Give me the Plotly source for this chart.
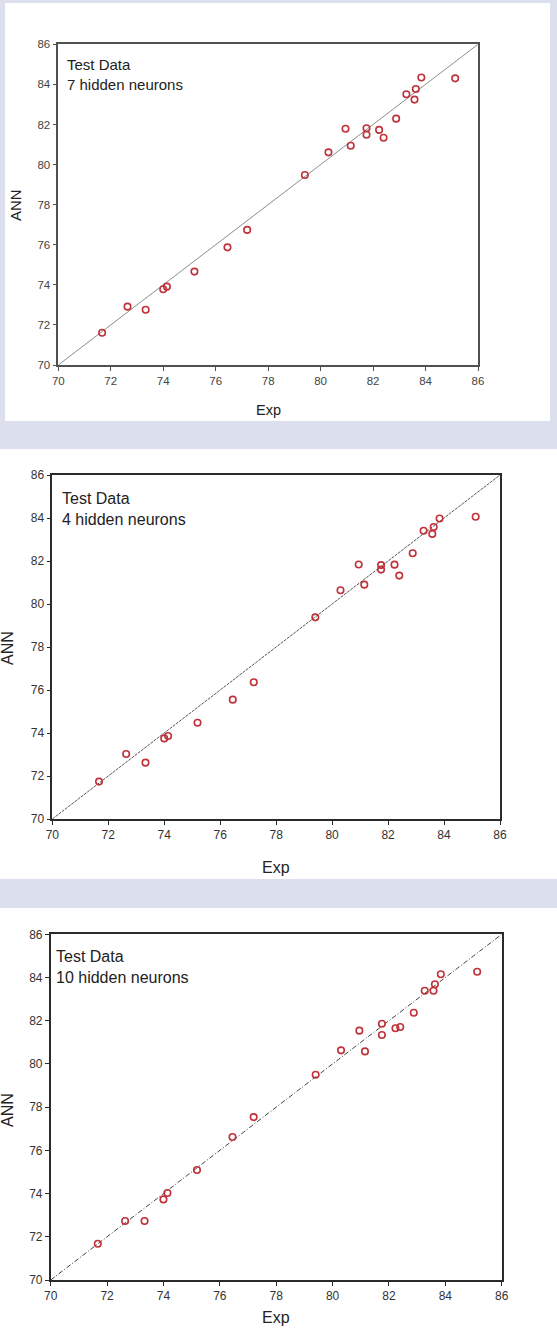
import plotly.graph_objects as go

# ---------------- data ----------------
exp_values = [71.67, 72.64, 73.33, 74.00, 74.14, 75.19, 76.45, 77.20, 79.40, 80.30, 80.95,
              81.15, 81.75, 81.75, 82.23, 82.40, 82.88, 83.27, 83.58, 83.63, 83.84, 85.13]
ann_7_neurons = [71.61, 72.91, 72.76, 73.78, 73.91, 74.66, 75.87, 76.74, 79.48, 80.61, 81.79,
                 80.94, 81.81, 81.49, 81.73, 81.34, 82.29, 83.51, 83.24, 83.77, 84.34, 84.30]
ann_4_neurons = [71.74, 73.02, 72.62, 73.75, 73.86, 74.48, 75.55, 76.36, 79.38, 80.64, 81.84,
                 80.90, 81.81, 81.60, 81.83, 81.32, 82.36, 83.41, 83.26, 83.58, 83.98, 84.06]
ann_10_neurons = [71.68, 72.73, 72.73, 73.73, 74.03, 75.09, 76.62, 77.54, 79.50, 80.63, 81.54,
                  80.58, 81.86, 81.34, 81.65, 81.71, 82.37, 83.39, 83.39, 83.69, 84.15, 84.27]
panel_labels = ["Test Data<br>7 hidden neurons", "Test Data<br>4 hidden neurons",
                "Test Data<br>10 hidden neurons"]
axis_range = [70, 86]
tick_values = [70, 72, 74, 76, 78, 80, 82, 84, 86]
x_title = "Exp"
y_title = "ANN"

# ---------------- layout helpers ----------------
W, H = 557, 1338
BAND = "#dcdfee"
RED = "#c0323a"
FONT = "Arial, Liberation Sans, sans-serif"


def px(x):
    return x / W


def py(y):
    return 1 - y / H


panels = [
    dict(ann=ann_7_neurons, xdom=(58.3, 478.0), ydom=(44.3, 365.0), frame="#505050",
         tickc="#444444", tickfs=11.5, line=dict(color="#8c8c8c", width=1, dash="solid"),
         lab=(65.0, 54.0, 15), exp=(268.0, 410.0, 14.5), ann_t=(15.0, 205.0, 15),
         bg=(5, 3, 550, 421)),
    dict(ann=ann_4_neurons, xdom=(52.3, 500.0), ydom=(475.0, 819.0), frame="#2a2a2a",
         tickc="#333333", tickfs=12, line=dict(color="#555555", width=1, dash="3px,1px"),
         lab=(60.0, 488.0, 16), exp=(276.0, 867.0, 16), ann_t=(7.0, 648.0, 16),
         bg=(0, 449, 557, 879)),
    dict(ann=ann_10_neurons, xdom=(50.7, 501.7), ydom=(934.3, 1280.0), frame="#2a2a2a",
         tickc="#333333", tickfs=12, line=dict(color="#444444", width=1, dash="5px,2px,1px,2px"),
         lab=(53.5, 946.0, 16), exp=(276.0, 1317.0, 16), ann_t=(7.0, 1110.0, 16),
         bg=(0, 908, 557, 1338)),
]

fig = go.Figure()
shapes = []
annotations = []
layout_axes = {}

for i, p in enumerate(panels, start=1):
    xa = "x" if i == 1 else f"x{i}"
    ya = "y" if i == 1 else f"y{i}"
    # identity line
    fig.add_trace(go.Scatter(x=axis_range, y=axis_range, mode="lines", line=p["line"],
                             xaxis=xa, yaxis=ya, showlegend=False, hoverinfo="skip"))
    # data points
    fig.add_trace(go.Scatter(x=exp_values, y=p["ann"], mode="markers",
                             marker=dict(symbol="circle-open", size=6.5, color=RED,
                                         line=dict(width=1.6, color=RED)),
                             xaxis=xa, yaxis=ya, showlegend=False))
    common = dict(range=axis_range, tickvals=tick_values, showgrid=False, zeroline=False,
                  showline=True, linecolor=p["frame"], linewidth=1.5, mirror=True,
                  ticks="outside", ticklen=4, tickwidth=1, tickcolor=p["frame"],
                  automargin=False,
                  tickfont=dict(family=FONT, size=p["tickfs"], color=p["tickc"]))
    layout_axes["xaxis" if i == 1 else f"xaxis{i}"] = dict(
        common, domain=[px(p["xdom"][0]), px(p["xdom"][1])], anchor=ya)
    layout_axes["yaxis" if i == 1 else f"yaxis{i}"] = dict(
        common, domain=[py(p["ydom"][1]), py(p["ydom"][0])], anchor=xa)

    x0, y0, x1, y1 = p["bg"]
    shapes.append(dict(type="rect", xref="paper", yref="paper", x0=px(x0), x1=px(x1),
                       y0=py(y1), y1=py(y0), fillcolor="white", line=dict(width=0),
                       layer="below"))

    lx, ly, lfs = p["lab"]
    annotations.append(dict(text=panel_labels[i - 1], xref="paper", yref="paper",
                            x=px(lx), y=py(ly), xanchor="left", yanchor="top", align="left",
                            showarrow=False, font=dict(family=FONT, size=lfs, color="#222222")))
    ex, ey, efs = p["exp"]
    annotations.append(dict(text=x_title, xref="paper", yref="paper", x=px(ex), y=py(ey),
                            xanchor="center", yanchor="middle", showarrow=False,
                            font=dict(family=FONT, size=efs, color="#222222")))
    ax_, ay_, afs = p["ann_t"]
    annotations.append(dict(text=y_title, xref="paper", yref="paper", x=px(ax_), y=py(ay_),
                            xanchor="center", yanchor="middle", textangle=-90, showarrow=False,
                            font=dict(family=FONT, size=afs, color="#222222")))

fig.update_layout(
    width=W, height=H, autosize=False,
    margin=dict(l=0, r=0, t=0, b=0, pad=0, autoexpand=False),
    paper_bgcolor=BAND, plot_bgcolor="white",
    shapes=shapes, annotations=annotations, showlegend=False,
    **layout_axes,
)

fig.write_html("out.html", post_script="document.body.style.margin='0px';")
